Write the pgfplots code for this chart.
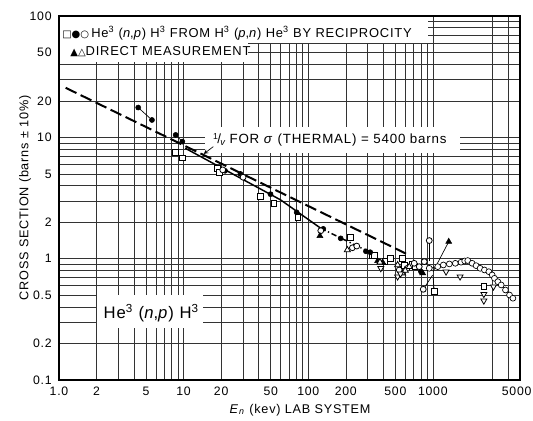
\documentclass[border=0pt]{standalone}
\usepackage{fontspec}
\setmainfont[LetterSpace=6]{Liberation Sans}
\newfontfamily\symfont{DejaVu Sans}
\usepackage{pgfplots}
\pgfplotsset{compat=1.18}
\begin{document}
\begin{tikzpicture}
\begin{axis}[
 xmode=log, ymode=log,
 xmin=1, xmax=5000, ymin=0.1, ymax=100,
 scale only axis, width=345.75pt, height=273pt,
 xtick={1,2,5,10,20,50,100,200,500,1000,5000},
 xticklabels={1.0,2,5,10,20,50,100,200,500,1000,{\makebox[0pt]{\kern-5pt 5000}}},
 ytick={0.1,0.2,0.5,1,2,5,10,20,50,100},
 yticklabels={0.1,0.2,0.5,1,2,5,10,20,50,100},
 minor xtick={3,4,6,7,8,9,30,40,60,70,80,90,300,400,600,700,800,900,3000,4000},
 minor ytick={0.3,0.4,0.6,0.7,0.8,0.9,3,4,6,7,8,9,30,40,60,70,80,90},
 grid=both,
 major grid style={black!80, line width=0.4pt},
 minor grid style={black!80, line width=0.4pt},
 major tick length=0pt, minor tick length=0pt,
 axis line style={line width=0.9pt},
 ticklabel style={font=\fontsize{9.2}{11}\selectfont},
 xticklabel style={yshift=-2pt},
 yticklabel style={xshift=-2pt},
 /pgf/number format/assume math mode=true,
 clip=false,
]
\coordinate (sw) at (rel axis cs:0,0);
\coordinate (ne) at (rel axis cs:1,1);
% white label boxes covering the grid
\fill[white] (rel axis cs:0.002,0.926) rectangle (rel axis cs:0.80,0.997);
\fill[white] (rel axis cs:0.002,0.874) rectangle (rel axis cs:0.41,0.93);
\fill[white] (rel axis cs:0.317,0.624) rectangle (rel axis cs:0.870,0.695);
\fill[white] (rel axis cs:0.082,0.143) rectangle (rel axis cs:0.312,0.234);
\node[anchor=west, font=\fontsize{9.7}{12}\selectfont, inner sep=0pt] at (rel axis cs:0.0065,0.953)
 {{\symfont\fontsize{7.5}{8}\selectfont □●○}\,He\textsuperscript{3} (\textit{n},\textit{p}) H\textsuperscript{3} FROM H\textsuperscript{3} (\textit{p},\textit{n}) He\textsuperscript{3} BY RECIPROCITY};
\node[anchor=west, font=\fontsize{9.7}{12}\selectfont, inner sep=0pt] at (rel axis cs:0.024,0.901)
 {{\symfont\fontsize{7.5}{8}\selectfont ▲△}DIRECT MEASUREMENT};
\node[anchor=west, font=\fontsize{10}{12}\selectfont, inner sep=0pt] at (rel axis cs:0.334,0.659)
 {{\raisebox{0.6ex}{\fontsize{6.5}{6}\selectfont 1}\kern-0.05em/\kern-0.05em\raisebox{-0.3ex}{\fontsize{7}{6}\selectfont\itshape v}} FOR \textit{σ} (THERMAL) = 5400 barns};
\node[font=\fontsize{12.5}{14}\selectfont, inner sep=0pt] at (rel axis cs:0.2,0.184)
 {He\textsuperscript{3} (\textit{n},\textit{p}) H\textsuperscript{3}};
\node[rotate=90, font=\fontsize{9.5}{10}\selectfont] at ([xshift=-25.5pt]rel axis cs:0,0.50) {CROSS SECTION (barns ± 10\%)};
\node[font=\fontsize{9.5}{10}\selectfont] at ([yshift=-22.5pt]rel axis cs:0.523,0) {\textit{E}\textsubscript{\textit{n}} (kev) LAB SYSTEM};
\draw[-stealth, line width=0.5pt] (axis cs:17.3,8.38) -- (axis cs:14.5,7.3);

% 1/v line and fitted curve
\addplot[black, line width=1.5pt, dash pattern=on 9pt off 3.5pt] coordinates {(1.13,25.6) (620,1.09)};
\addplot[black, line width=1.1pt] coordinates {(10.3,8.13) (60,3.05) (126,1.78)};
\addplot[black, line width=1.1pt, dash pattern=on 4pt off 2pt on 1pt off 2pt] coordinates {(126,1.78) (349,1.07)};
% leader lines
\addplot[black, line width=0.5pt] coordinates {(4.32,17.6) (5.57,13.9)};
\addplot[black, line width=0.5pt] coordinates {(8.63,10.47) (9.76,9.22)};
\addplot[black, line width=0.5pt] coordinates {(935,1.41) (935,0.95)};
\addplot[black, line width=0.5pt] coordinates {(1340,1.38) (1003,0.781)};
\addplot[black, line width=0.5pt] coordinates {(837,0.559) (996,0.734)};
\addplot[black, line width=0.5pt] coordinates {(1026,0.535) (1003,0.711)};
% open circles along the high-energy curve
\addplot[black, line width=0.5pt, mark=*, mark size=2.2pt, mark options={fill=white, line width=0.5pt}] coordinates {
(935,0.833) (1093,0.859) (1213,0.887) (1355,0.905) (1514,0.916) (1683,0.935) (1800,0.957) (1905,0.965)
(2064,0.916) (2222,0.876) (2393,0.833) (2592,0.807) (2812,0.781) (2989,0.734) (3119,0.689) (3321,0.646)
(3532,0.607) (3823,0.552) (4118,0.502) (4385,0.472)};
% open squares
\addplot[only marks, mark=square*, mark size=2.2pt, mark options={fill=white, draw=black, line width=0.6pt}] coordinates {
(8.63,7.54) (9.76,6.76) (18.6,5.56) (19.5,5.12) (41.4,3.25) (53.0,2.86) (82.6,2.19) (219,1.50) (328,1.07)
(338,1.06) (412,0.957) (454,1.01) (571,1.01) (589,0.887) (688,0.899) (718,0.859) (1026,0.535) (2563,0.59)};
% filled circles
\addplot[only marks, mark=*, mark size=1.9pt, mark options={fill=black, draw=black}] coordinates {
(4.32,17.6) (5.57,13.9) (8.63,10.47) (9.76,9.22) (21.5,5.3) (28.6,4.99) (49.8,3.40) (80.7,2.41) (132,1.76)
(182,1.47) (290,1.15) (314,1.13) (802,0.781)};
% open circles
\addplot[only marks, mark=*, mark size=2.2pt, mark options={fill=white, draw=black, line width=0.6pt}] coordinates {
(20.6,5.39) (30.0,4.69) (126,1.70) (226,1.23) (245,1.27) (537,0.807) (708,0.916) (777,0.859) (853,0.945)
(837,0.559) (935,1.41) (620,0.83)};
% filled triangles
\addplot[only marks, mark=triangle*, mark size=2.6pt, mark options={fill=black, draw=black}] coordinates {
(124,1.54) (360,0.957) (395,0.935) (828,0.76) (1340,1.38)};
% open triangles
\addplot[only marks, mark=triangle*, mark size=2.6pt, mark options={fill=white, draw=black, line width=0.6pt}] coordinates {
(206,1.18) (376,0.935) (521,0.887) (571,0.76) (646,0.859) (600,0.80)};
% open down triangles
\addplot[only marks, mark=triangle*, mark size=2.6pt, mark options={fill=white, draw=black, line width=0.6pt, rotate=180}] coordinates {
(382,0.833) (521,0.711) (550,0.75) (1275,0.781) (1652,0.711) (2563,0.51) (2563,0.45) (3062,0.588)};
\end{axis}
\pgfresetboundingbox
\path[use as bounding box] ([xshift=-44.25pt,yshift=-30.75pt]sw) rectangle ([xshift=9.75pt,yshift=12pt]ne);
\end{tikzpicture}
\end{document}
